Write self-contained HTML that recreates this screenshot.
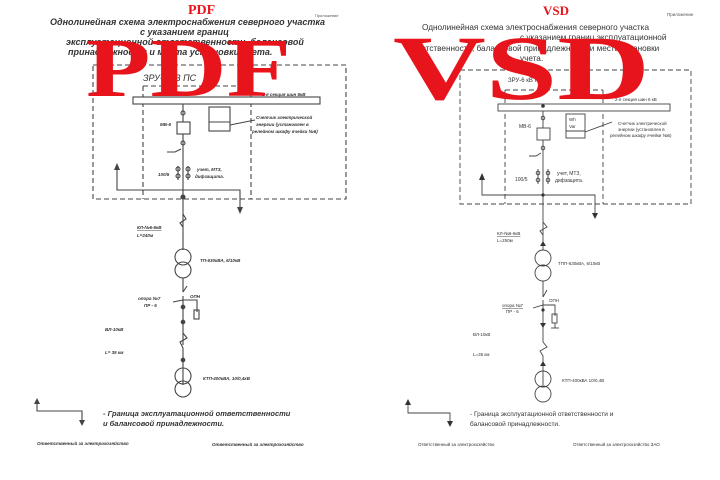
<!DOCTYPE html>
<html><head><meta charset="utf-8">
<style>
html,body{margin:0;padding:0;background:#fff;}
svg{display:block;}
text{font-family:"Liberation Sans",sans-serif;}
.big{font-family:"Liberation Serif",serif;font-weight:bold;fill:#e8141c;}
.lt{font-style:italic;font-weight:bold;fill:#333;}
</style></head><body>
<svg width="720" height="480" viewBox="0 0 720 480" xmlns="http://www.w3.org/2000/svg">
<rect width="720" height="480" fill="#fff"/>

<!-- ================= LEFT (PDF) ================= -->
<g stroke="#444" fill="none" stroke-width="1.1">
  <rect x="93" y="65" width="253" height="134" stroke-dasharray="5,3"/>
  <line x1="143" y1="86" x2="143" y2="199" stroke-dasharray="5,3"/>
  <line x1="143" y1="86" x2="251" y2="86" stroke-dasharray="5,3"/>
  <line x1="251" y1="86" x2="251" y2="199" stroke-dasharray="5,3"/>
  <rect x="133" y="97" width="187" height="7" fill="#fff"/>
  <line x1="183" y1="104" x2="183" y2="250"/>
  <circle cx="183" cy="113" r="2"/>
  <rect x="177" y="122" width="13" height="12" fill="#fff"/>
  <circle cx="183" cy="143" r="2"/>
  <polyline points="167,152 175,152 181,149"/>
  <rect x="209" y="107" width="21" height="24" fill="#fff"/>
  <line x1="209" y1="122" x2="230" y2="122"/>
  <line x1="230" y1="125" x2="255" y2="120"/>
  <line x1="178" y1="166" x2="178" y2="180"/><line x1="188" y1="166" x2="188" y2="180"/>
  <circle cx="178" cy="169" r="2"/><circle cx="188" cy="169" r="2"/>
  <circle cx="178" cy="176" r="2"/><circle cx="188" cy="176" r="2"/>
  <polyline points="117,168 117,190 240,190 240,208"/>
  <circle cx="183" cy="197" r="2" fill="#444"/>
  <polyline points="183,214 186,219 180,223 183,227"/>
  <circle cx="183" cy="257" r="8"/><circle cx="183" cy="270" r="8"/>
  <line x1="183" y1="278" x2="183" y2="292"/>
  <line x1="183" y1="292" x2="187" y2="286"/>
  <line x1="183" y1="296" x2="183" y2="345"/>
  <polyline points="173,302 183,300 197,300 197,312"/>
  <rect x="194" y="310" width="5" height="9"/>
  <circle cx="183" cy="307" r="1.8" fill="#444"/><circle cx="183" cy="322" r="1.8" fill="#444"/>
  <polyline points="183,333 187,338 180,342 183,348 183,385"/>
  <circle cx="183" cy="360" r="1.8" fill="#444"/>
  <circle cx="183" cy="376" r="8"/><circle cx="183" cy="389" r="8"/>
  <polyline points="37,404 37,411 82,411 82,422"/>
</g>
<g fill="#444">
  <polygon points="114,170 117,163 120,170"/>
  <polygon points="237,207 240,214 243,207"/>
  <polygon points="34,404 37,398 40,404"/>
  <polygon points="79,420 82,426 85,420"/>
</g>
<g class="lt" font-size="9">
  <text x="50" y="25">Однолинейная схема электроснабжения северного участка</text>
  <text x="140" y="35">с указанием границ</text>
  <text x="66" y="45">эксплуатационной ответственности, балансовой</text>
  <text x="68" y="55">принадлежности и места установки учета.</text>
</g>
<text x="315" y="17" font-size="4" fill="#555">Приложение</text>
<text x="143" y="81" font-size="9" font-style="italic" fill="#333">ЗРУ-6 кВ ПС</text>
<g class="lt" font-size="4.5">
  <text x="262" y="96">2-я секция шин 6кВ</text>
  <text x="160" y="126">МВ-6</text>
  <text x="256" y="119">Счетчик электрической</text>
  <text x="256" y="126">энергии (установлен в</text>
  <text x="252" y="133">релейном шкафу ячейки №6)</text>
  <text x="158" y="176">100/5</text>
  <text x="197" y="171">учет, МТЗ,</text>
  <text x="195" y="178">дифзащита.</text>
  <text x="137" y="229" text-decoration="underline">КЛ-№6-6кВ</text>
  <text x="137" y="237">L=240м</text>
  <text x="200" y="262">ТП-630кВА, 6/10кВ</text>
  <text x="138" y="300">опора №7</text>
  <text x="144" y="307">ПР - 6</text>
  <text x="190" y="298">ОПН</text>
  <text x="105" y="331">ВЛ-10кВ</text>
  <text x="105" y="354">L= 35 км</text>
  <text x="203" y="380">КТП-400кВА, 10/0,4кВ</text>
  <text x="37" y="445">Ответственный за электрохозяйство</text>
  <text x="212" y="446">Ответственный за электрохозяйство</text>
</g>
<g class="lt" font-size="7.5">
  <text x="103" y="416">- Граница эксплуатационной ответственности</text>
  <text x="103" y="426">и балансовой принадлежности.</text>
</g>
<text x="188" y="14" font-size="14" class="big">PDF</text>
<text x="86" y="96" font-size="84" textLength="205" lengthAdjust="spacingAndGlyphs" class="big">PDF</text>

<!-- ================= RIGHT (VSD) ================= -->
<g stroke="#444" fill="none" stroke-width="0.9">
  <rect x="460" y="70" width="231" height="134" stroke-dasharray="5,3"/>
  <line x1="505" y1="90" x2="505" y2="204" stroke-dasharray="5,3"/>
  <line x1="505" y1="90" x2="603" y2="90" stroke-dasharray="5,3"/>
  <line x1="603" y1="90" x2="603" y2="204" stroke-dasharray="5,3"/>
  <rect x="498" y="104" width="172" height="7" fill="#fff"/>
  <line x1="543" y1="111" x2="543" y2="250"/>
  <circle cx="543" cy="118" r="1.8"/>
  <rect x="537" y="128" width="13" height="12" fill="#fff"/>
  <circle cx="543" cy="148" r="1.8"/>
  <polyline points="529,156 536,156 541,153"/>
  <rect x="566" y="114" width="19" height="24" fill="#fff"/>
  <line x1="566" y1="131" x2="585" y2="131"/>
  <line x1="585" y1="132" x2="612" y2="122"/>
  <line x1="538" y1="169" x2="538" y2="184"/><line x1="548" y1="169" x2="548" y2="184"/>
  <circle cx="538" cy="173" r="1.8"/><circle cx="548" cy="173" r="1.8"/>
  <circle cx="538" cy="180" r="1.8"/><circle cx="548" cy="180" r="1.8"/>
  <polyline points="482,178 482,195 595,195 595,214"/>
  <polyline points="543,222 547,227 540,231 543,235"/>
  <circle cx="543" cy="258" r="8"/><circle cx="543" cy="273" r="8"/>
  <line x1="543" y1="281" x2="543" y2="297"/>
  <line x1="543" y1="297" x2="547" y2="290"/>
  <line x1="543" y1="300" x2="543" y2="342"/>
  <polyline points="533,308 543,305 555,305 555,316"/>
  <rect x="552" y="314" width="5" height="9"/>
  <line x1="555" y1="323" x2="555" y2="328"/><line x1="551" y1="328" x2="559" y2="328"/>
  <polyline points="543,342 547,347 540,351 543,356 543,385"/>
  <circle cx="543" cy="379" r="8"/><circle cx="543" cy="394" r="8"/>
  <polyline points="408,404 408,413 450,413 450,422"/>
</g>
<g fill="#333">
  <circle cx="543" cy="106" r="1.8"/>
  <circle cx="543" cy="195" r="1.6"/>
  <circle cx="543" cy="310" r="1.6"/>
  <polygon points="479,180 482,173 485,180"/>
  <polygon points="592,213 595,219 598,213"/>
  <polygon points="540,323 543,328 546,323"/>
  <polygon points="540,366 543,361 546,366"/>
  <polygon points="540,246 543,241 546,246"/>
  <polygon points="405,405 408,399 411,405"/>
  <polygon points="447,421 450,427 453,421"/>
</g>
<g font-size="8.2" fill="#333">
  <text x="422" y="30">Однолинейная схема электроснабжения северного участка</text>
  <text x="520" y="40">с указанием границ эксплуатационной</text>
  <text x="409" y="51">ответственности, балансовой принадлежности и места установки</text>
  <text x="520" y="61">учета.</text>
</g>
<text x="667" y="16" font-size="4.5" fill="#555">Приложение</text>
<g font-size="4.5" fill="#333">
  <text x="508" y="82" font-size="6">ЗРУ-6 кВ ПС</text>
  <text x="615" y="101">2-я секция шин 6 кВ</text>
  <text x="519" y="128" font-size="5">МВ-6</text>
  <text x="569" y="121">Wh</text>
  <text x="569" y="128">Var</text>
  <text x="618" y="125">Счетчик электрической</text>
  <text x="618" y="131">энергии (установлен в</text>
  <text x="610" y="137">релейном шкафу ячейки №6)</text>
  <text x="515" y="181" font-size="5">100/5</text>
  <text x="557" y="175" font-size="5">учет, МТЗ,</text>
  <text x="555" y="182" font-size="5">дифзащита.</text>
  <text x="497" y="235" text-decoration="underline">КЛ-№6-6кВ</text>
  <text x="497" y="242">L=250м</text>
  <text x="558" y="265">ТПП-630кВА, 6/10кВ</text>
  <text x="502" y="307" text-decoration="underline">опора №7</text>
  <text x="506" y="313">ПР - 6</text>
  <text x="549" y="302">ОПН</text>
  <text x="473" y="336">ВЛ-10кВ</text>
  <text x="473" y="356">L=35 км</text>
  <text x="562" y="382">КТП-400кВА 10/0,4В</text>
  <text x="418" y="446">Ответственный за электрохозяйство</text>
  <text x="573" y="446">Ответственный за электрохозяйство ЗАО</text>
</g>
<g font-size="6.5" fill="#333">
  <text x="470" y="416">- Граница эксплуатационной ответственности и</text>
  <text x="470" y="426">балансовой принадлежности.</text>
</g>
<text x="543" y="15" font-size="13" class="big">VSD</text>
<text x="393" y="99" font-size="92" textLength="257" lengthAdjust="spacingAndGlyphs" class="big">VSD</text>
</svg>
</body></html>
